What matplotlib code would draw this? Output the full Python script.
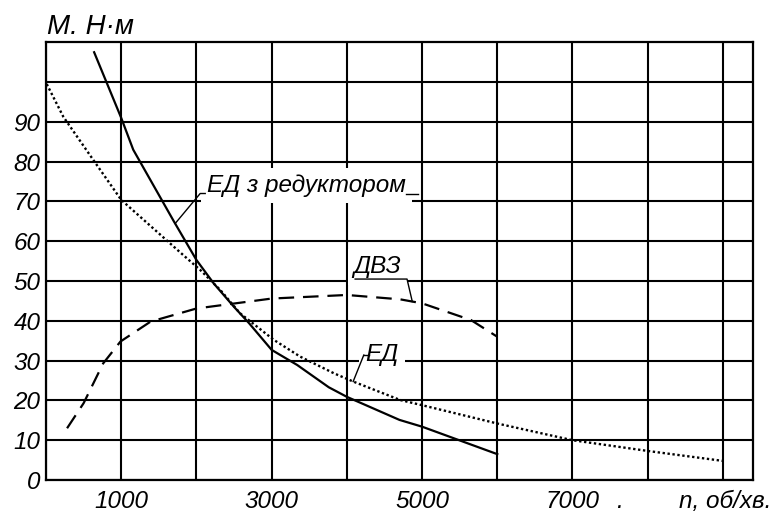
import numpy as np
import matplotlib
matplotlib.use("Agg")
import matplotlib.pyplot as plt
from matplotlib.ticker import MultipleLocator

plt.rcParams['font.family'] = ['Liberation Sans', 'DejaVu Sans']
plt.rcParams['font.style'] = 'italic'

# ЕД з редуктором (solid)
ed_red_x = [640, 1000, 1160, 1700, 2000, 2230, 2500, 2700, 3000, 3340, 3760, 4000, 4700, 5000, 6000]
ed_red_y = [107.5, 91, 83, 65, 55.3, 49.4, 43.5, 39.4, 32.7, 28.9, 23.3, 20.9, 15.1, 13.4, 6.5]

# ЕД (dotted)
ed_x = [10, 230, 630, 1000, 1600, 1850, 2050, 2320, 2580, 3030, 3380, 3830, 4090, 4710, 5000, 6000, 7000, 8000, 9000]
ed_y = [99.5, 91.3, 80.4, 70.4, 60.3, 56.1, 52.8, 47.7, 41.9, 35.2, 31, 26.8, 24.7, 20.1, 18.8, 14.2, 10, 7.3, 4.8]

# ДВЗ (dashed)
dvz_x = [280, 500, 760, 990, 1390, 2000, 3000, 4000, 4710, 5000, 5650, 6000]
dvz_y = [13, 19.3, 29.3, 34.8, 39.8, 43.1, 45.6, 46.5, 45.4, 44.4, 40.2, 36]

x_ticks = [1000, 3000, 5000, 7000, 7620, 9030]
x_labels = ['1000', '3000', '5000', '7000', '.', 'n, об/хв.']
y_ticks = list(range(0, 101, 10))
y_labels = [str(v) for v in range(0, 91, 10)] + ['']

fs = 17.5
fig = plt.figure(figsize=(7.76, 5.14), dpi=100)
ax = fig.add_axes([46/776, 1 - 480/514, (753 - 46)/776, (480 - 42.3)/514])

ax.plot(ed_red_x, ed_red_y, color='black', lw=1.6, solid_joinstyle='miter')
ax.plot(ed_x, ed_y, color='black', lw=1.7, linestyle=(0, (1, 1.1)))
ax.plot(dvz_x, dvz_y, color='black', lw=1.6, linestyle=(0, (7, 4)))

ax.set_xlim(0, 9400)
ax.set_ylim(0, 110)
ax.xaxis.remove_overlapping_locs = False
ax.set_xticks(x_ticks, x_labels)
ax.set_yticks(y_ticks, y_labels)
ax.xaxis.set_minor_locator(MultipleLocator(1000))
ax.tick_params(which='both', length=0, labelsize=fs)
ax.tick_params(axis='x', pad=7)
ax.tick_params(axis='y', pad=4)
ax.set_axisbelow(True)
ax.grid(which='minor', axis='x', color='black', lw=1.5)
ax.grid(which='major', axis='y', color='black', lw=1.5)
for s in ax.spines.values():
    s.set_linewidth(1.6)

box = dict(facecolor='white', edgecolor='none', boxstyle='square,pad=0.25')

# ЕД з редуктором
ax.text(2140, 72.4, 'ЕД з редуктором', fontsize=fs, ha='left', va='baseline', bbox=box, zorder=3)
x0 = 1717
ax.plot([x0, 2050, 2117], [np.interp(x0, ed_red_x, ed_red_y), 72.0, 72.0], color='black', lw=1.0, zorder=4)
ax.plot([4790, 4940], [72.0, 72.0], color='black', lw=1.0, zorder=4)

# ДВЗ
ax.text(4091, 51.9, 'ДВЗ', fontsize=fs, ha='left', va='baseline', bbox=box, zorder=3)
x1 = 4870
ax.plot([4110, 4800, x1], [50.5, 50.5, np.interp(x1, dvz_x, dvz_y)], color='black', lw=1.0, zorder=4)

# ЕД
ax.text(4247, 29.9, 'ЕД', fontsize=fs, ha='left', va='baseline', bbox=box, zorder=3)
x2 = 4084
ax.plot([4225, 4300], [31.4, 31.4], color='black', lw=1.0, zorder=4)
ax.plot([4225, x2], [31.4, np.interp(x2, ed_x, ed_y)], color='black', lw=1.0, zorder=4)
ax.plot([4846, 4953], [30.0, 30.0], color='black', lw=1.4, zorder=4)

fig.text(47/776, 1 - 34/514, 'М. Н·м', fontsize=20, ha='left', va='baseline')

fig.savefig('out.png', dpi=100)
